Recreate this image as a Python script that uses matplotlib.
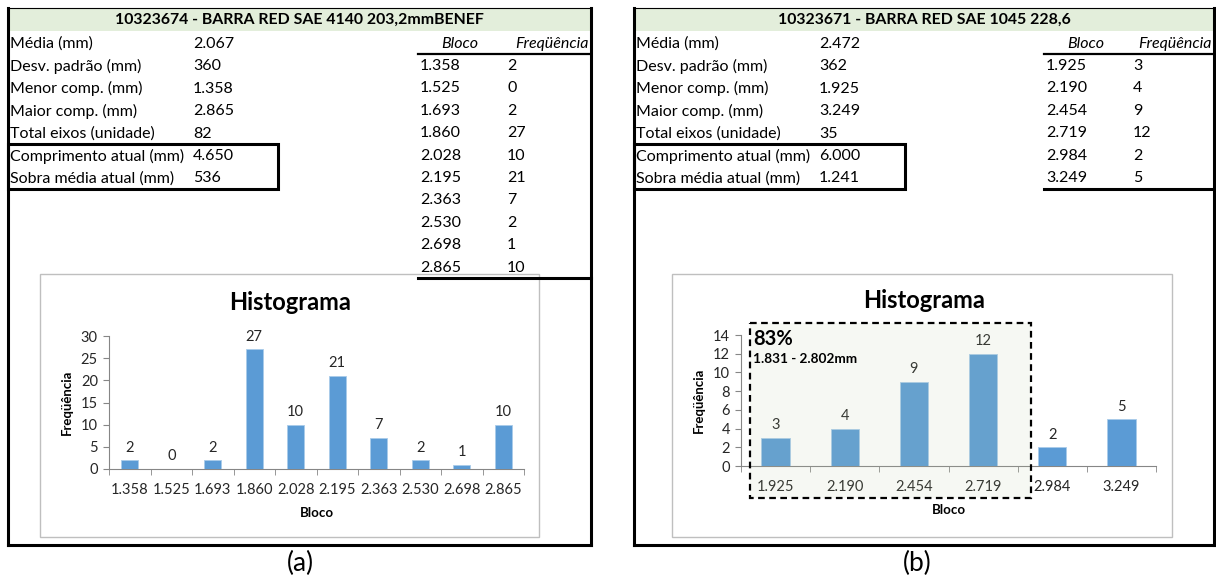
"""
plot.py - Two spreadsheet-style panels (summary table + frequency table + histogram).
"""

import matplotlib
matplotlib.use("Agg")
import matplotlib.pyplot as plt
from matplotlib.patches import Rectangle

plt.rcParams["font.family"] = ["Lato", "DejaVu Sans"]

# --- data -------------------------------------------------------------------
title_a = "10323674 - BARRA RED SAE 4140 203,2mmBENEF"
title_b = "10323671 - BARRA RED SAE 1045 228,6"

stat_labels = ["Média (mm)", "Desv. padrão (mm)", "Menor comp. (mm)",
               "Maior comp. (mm)", "Total eixos (unidade)",
               "Comprimento atual (mm)", "Sobra média atual (mm)"]
stat_a = ["2.067", "360", "1.358", "2.865", "82", "4.650", "536"]
stat_b = ["2.472", "362", "1.925", "3.249", "35", "6.000", "1.241"]

blocos_a = ["1.358", "1.525", "1.693", "1.860", "2.028",
            "2.195", "2.363", "2.530", "2.698", "2.865"]
freq_a = [2, 0, 2, 27, 10, 21, 7, 2, 1, 10]

blocos_b = ["1.925", "2.190", "2.454", "2.719", "2.984", "3.249"]
freq_b = [3, 4, 9, 12, 2, 5]

faixa_pct = "83%"
faixa_txt = "1.831 - 2.802mm"

BAR = "#5b9bd5"
HEAD = "#e3eedb"
W, H = 1216, 581
THICK = 2.2
THIN = 0.8
FS = 11.5    # table text
FT = 10.5    # chart text

fig = plt.figure(figsize=(W / 100, H / 100), dpi=100)

# base layer in pixel coords (y down)
base = fig.add_axes([0, 0, 1, 1], zorder=0)
base.set_xlim(0, W)
base.set_ylim(H, 0)
base.axis("off")

# top layer for overlays
top = fig.add_axes([0, 0, 1, 1], zorder=10)
top.set_xlim(0, W)
top.set_ylim(H, 0)
top.axis("off")
top.patch.set_alpha(0)


def hline(ax, x0, x1, y, lw, z=3):
    ax.plot([x0, x1], [y, y], color="black", lw=lw, solid_capstyle="projecting", zorder=z)


def vline(ax, x, y0, y1, lw, z=3):
    ax.plot([x, x], [y0, y1], color="black", lw=lw, solid_capstyle="projecting", zorder=z)


def panel(x0, x1, title, stats, blocos, freqs, tab_x, box_x1, tab_bottom, chart_box):
    # header band
    base.add_patch(Rectangle((x0, 8), x1 - x0, 23, facecolor=HEAD, edgecolor="none", zorder=1))
    base.text((x0 + x1) / 2, 20, title, ha="center", va="center",
              fontsize=11.4, fontweight="bold", zorder=4)
    hline(base, x0, x1, 8, THIN)
    vline(base, x0, 8, 545, THICK)
    vline(base, x1, 8, 545, THICK)
    hline(base, x0, x1, 545, THICK)

    # stats rows
    row_y = [44 + 22.4 * i for i in range(len(stats))]
    for lab, val, y in zip(stat_labels, stats, row_y):
        base.text(x0 + 2, y, lab, ha="left", va="center", fontsize=FS, zorder=4)
        base.text(x0 + 185, y, val, ha="left", va="center", fontsize=FS, zorder=4)
    # box around the last two rows
    base.add_patch(Rectangle((x0, 144), box_x1 - x0, 45, facecolor="none",
                             edgecolor="black", lw=THICK, zorder=3))

    # bloco / frequencia table
    base.text(tab_x + 60, 44, "Bloco", ha="right", va="center", fontsize=FS, style="italic", zorder=4)
    base.text(x1 - 2, 44, "Freqüência", ha="right", va="center", fontsize=FS, style="italic", zorder=4)
    hline(base, tab_x, x1, 54, 1.6)
    for i, (b, f) in enumerate(zip(blocos, freqs)):
        y = 66 + 22.4 * i
        base.text(tab_x + 2, y, b, ha="left", va="center", fontsize=FS, zorder=4)
        base.text(tab_x + 89, y, str(f), ha="left", va="center", fontsize=FS, zorder=4)
    hline(base, tab_x, x1, tab_bottom, THICK, z=5)

    # chart frame
    cx0, cy0, cx1, cy1 = chart_box
    base.add_patch(Rectangle((cx0, cy0), cx1 - cx0, cy1 - cy0, facecolor="white",
                             edgecolor="#bfbfbf", lw=1.0, zorder=2))


def histogram(px_left, px_right, px_top, px_bottom, blocos, freqs, ymax, ystep):
    ax = fig.add_axes([px_left / W, 1 - px_bottom / H,
                       (px_right - px_left) / W, (px_bottom - px_top) / H], zorder=5)
    ax.patch.set_alpha(0)
    xs = list(range(len(freqs)))
    ax.bar(xs, freqs, width=0.41, color=BAR, edgecolor="#a9cbe9", linewidth=0.6, zorder=3)
    for x, f in zip(xs, freqs):
        ax.annotate(str(f), (x, f), xytext=(0, 4), textcoords="offset points",
                    ha="center", va="bottom", fontsize=FT, color="#262626")
    ax.set_xlim(-0.5, len(freqs) - 0.5)
    ax.set_ylim(0, ymax)
    ax.set_yticks(range(0, ymax + 1, ystep))
    ax.set_xticks(xs)
    ax.set_xticklabels(blocos)
    ax.set_xticks([x - 0.5 for x in range(len(freqs) + 1)], minor=True)
    ax.tick_params(axis="x", which="major", length=0, pad=10, labelsize=FT, labelcolor="#262626")
    ax.tick_params(axis="x", which="minor", length=4, color="#868686", direction="out")
    ax.tick_params(axis="y", length=4, color="#868686", pad=4, labelsize=FT, labelcolor="#262626")
    for s in ("top", "right"):
        ax.spines[s].set_visible(False)
    for s in ("left", "bottom"):
        ax.spines[s].set_color("#868686")
        ax.spines[s].set_linewidth(0.8)
    ax.set_xlabel("Bloco", fontsize=9.5, fontweight="bold", labelpad=7)
    ax.set_ylabel("Freqüência", fontsize=9.5, fontweight="bold", labelpad=6)
    return ax


# panel (a)
panel(8, 591, title_a, stat_a, blocos_a, freq_a, tab_x=418, box_x1=278,
      tab_bottom=278, chart_box=(40, 274, 539, 537))
base.text(290, 303, "Histograma", ha="center", va="center", fontsize=17, fontweight="bold", zorder=4)
histogram(109, 524, 336, 469, blocos_a, freq_a, 30, 5)
base.text(300, 563, "(a)", ha="center", va="center", fontsize=19)

# panel (b)
panel(634, 1214, title_b, stat_b, blocos_b, freq_b, tab_x=1044, box_x1=905,
      tab_bottom=189, chart_box=(672, 274, 1172, 537))
base.text(924, 301, "Histograma", ha="center", va="center", fontsize=17, fontweight="bold", zorder=4)
ax_b = histogram(741, 1156, 335, 466, blocos_b, freq_b, 14, 2)
base.text(917, 563, "(b)", ha="center", va="center", fontsize=19)

# highlighted range in (b)
top.add_patch(Rectangle((750, 323), 281, 175, facecolor=(188 / 255, 205 / 255, 160 / 255, 0.12),
                        edgecolor="black", lw=1.6, linestyle=(0, (3, 2))))
top.text(753, 339, faixa_pct, ha="left", va="center", fontsize=14.5, fontweight="bold")
top.text(753, 359, faixa_txt, ha="left", va="center", fontsize=9.8, fontweight="bold")

fig.savefig("out.png", dpi=100)
